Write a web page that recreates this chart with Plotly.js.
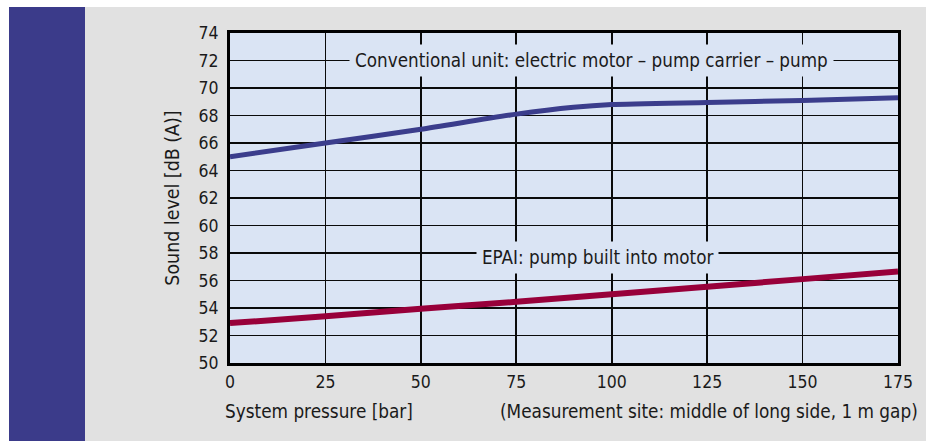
<!DOCTYPE html>
<html>
<head>
<meta charset="utf-8">
<script src="https://cdn.plot.ly/plotly-3.0.1.min.js"></script>
<style>
html,body{margin:0;padding:0;background:#fff;}
#chart{width:926px;height:442px;}
</style>
</head>
<body>
<div id="chart"></div>
<script>
// Data
var pressure = [0, 25, 50, 75, 90, 100, 125, 150, 175];
var conventional = [65.0, 66.0, 67.0, 68.1, 68.6, 68.8, 68.95, 69.1, 69.3];
var pressureEpai = [0, 25, 50, 75, 100, 125, 150, 175];
var epai = [52.9, 53.4, 53.95, 54.45, 55.0, 55.55, 56.1, 56.65];
var xTicks = [0, 25, 50, 75, 100, 125, 150, 175];
var yTicks = [50, 52, 54, 56, 58, 60, 62, 64, 66, 68, 70, 72, 74];
var labelConventional = 'Conventional unit: electric motor – pump carrier – pump';
var labelEpai = 'EPAI: pump built into motor';
var xTitle = 'System pressure [bar]';
var yTitle = 'Sound level [dB (A)]';
var noteText = '(Measurement site: middle of long side, 1 m gap)';

var FONT = '"Liberation Sans Narrow", "DejaVu Sans Condensed", "Arial Narrow", sans-serif';
var W = 926, H = 442, L = 230, R = 28, T = 33, B = 79;
var pw = W - L - R, ph = H - T - B;
function px(x){ return (x - L) / pw; }
function py(y){ return (H - B - y) / ph; }
var plotBg = '#dae4f4';
var TXT = '#1a1a1a';

var traces = [
  {x: pressure, y: conventional, mode: 'lines', line: {color: '#3b3d8c', width: 5, shape: 'spline', smoothing: 0.6}, hoverinfo: 'skip'},
  {x: pressureEpai, y: epai, mode: 'lines', line: {color: '#98003a', width: 6, shape: 'spline', smoothing: 0.6}, hoverinfo: 'skip'}
];

var layout = {
  width: W, height: H,
  margin: {l: L, r: R, t: T, b: B, pad: 0},
  paper_bgcolor: '#ffffff',
  plot_bgcolor: 'rgba(0,0,0,0)',
  showlegend: false,
  font: {family: FONT, size: 17, color: TXT},
  xaxis: {
    range: [0, 175], tickvals: xTicks, ticktext: xTicks.map(String),
    showgrid: true, gridcolor: '#0a0a0a', gridwidth: 1.7,
    showline: true, linecolor: '#000', linewidth: 3, mirror: true,
    ticks: 'outside', ticklen: 1, tickcolor: 'rgba(0,0,0,0)',
    zeroline: false, tickfont: {family: FONT, size: 17.5, color: TXT}
  },
  yaxis: {
    range: [50, 74], tickvals: yTicks, ticktext: yTicks.map(String),
    showgrid: true, gridcolor: '#0a0a0a', gridwidth: 1.7,
    showline: true, linecolor: '#000', linewidth: 3, mirror: true,
    ticks: 'outside', ticklen: 5, tickcolor: 'rgba(0,0,0,0)',
    zeroline: false, tickfont: {family: FONT, size: 17.5, color: TXT},
    title: {text: yTitle, standoff: 14, font: {family: FONT, size: 19.4, color: TXT}}
  },
  shapes: [
    {type: 'rect', xref: 'paper', yref: 'paper', x0: px(9), x1: px(926), y0: py(441), y1: py(7), fillcolor: '#e1e1e1', line: {width: 0}, layer: 'below'},
    {type: 'rect', xref: 'paper', yref: 'paper', x0: px(9), x1: px(85), y0: py(441), y1: py(7), fillcolor: '#3b3b8a', line: {width: 0}, layer: 'below'},
    {type: 'rect', xref: 'paper', yref: 'paper', x0: 0, x1: 1, y0: 0, y1: 1, fillcolor: plotBg, line: {width: 0}, layer: 'below'}
  ],
  annotations: [
    {x: 94.8, y: 72, xref: 'x', yref: 'y', text: labelConventional, showarrow: false, xanchor: 'center', yanchor: 'middle',
     bgcolor: plotBg, borderpad: 5, font: {family: FONT, size: 18.7, color: TXT}},
    {x: 96.4, y: 57.7, xref: 'x', yref: 'y', text: labelEpai, showarrow: false, xanchor: 'center', yanchor: 'middle',
     bgcolor: plotBg, borderpad: 5, font: {family: FONT, size: 18.7, color: TXT}},
    {x: px(223), y: py(411), xref: 'paper', yref: 'paper', text: xTitle, showarrow: false, xanchor: 'left', yanchor: 'middle',
     font: {family: FONT, size: 18.8, color: TXT}},
    {x: px(920), y: py(411), xref: 'paper', yref: 'paper', text: noteText, showarrow: false, xanchor: 'right', yanchor: 'middle',
     font: {family: FONT, size: 18.8, color: TXT}}
  ]
};

Plotly.newPlot('chart', traces, layout, {staticPlot: true, displayModeBar: false});
</script>
</body>
</html>
